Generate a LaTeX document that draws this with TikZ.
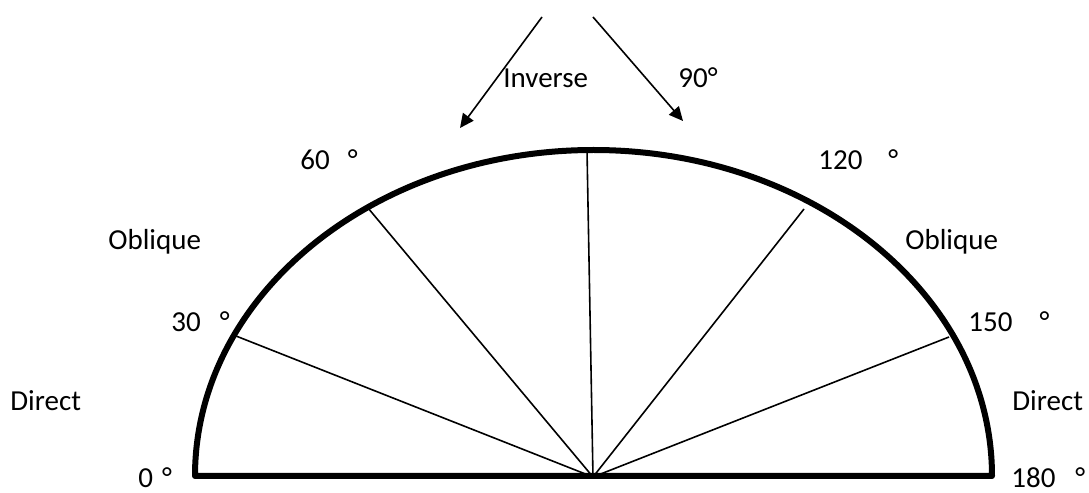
\documentclass[tikz,border=0pt]{standalone}
\usepackage{fontspec}
\setmainfont{Carlito}
\usepackage{tikz}
\usetikzlibrary{
  arrows.meta,
  positioning
}
\tikzset{
    rim/.style={line width=3pt, line join=round},
    spoke/.style={line width=0.8pt},
    ray/.style={line width=0.8pt, -{Triangle[length=7pt, width=6.5pt]}},
    zonetext/.style={anchor=base west, inner sep=0pt, font=\fontsize{14.5}{17}\selectfont}
}

\begin{document}
\begin{tikzpicture}[x=0.5pt, y=0.5pt]
            \useasboundingbox (0,0) rectangle (1089,493);
            % half disc
            \coordinate (O) at (593,16);
            \draw[rim] (195,17) arc[start angle=180, end angle=0, x radius=398.5, y radius=326] -- cycle;
            % spokes
            \coordinate (e30) at (236,157);
            \coordinate (e60) at (368,285);
            \coordinate (e90) at (587,343);
            \coordinate (e120) at (804,284);
            \coordinate (e150) at (949,156);
            \draw[spoke] (O) -- (e30);
            \draw[spoke] (O) -- (e60);
            \draw[spoke] (O) -- (e90);
            \draw[spoke] (O) -- (e120);
            \draw[spoke] (O) -- (e150);
            % arrows
            \coordinate (invStart) at (542,476);
            \coordinate (invEnd) at (460,365);
            \coordinate (rightStart) at (593,476);
            \coordinate (rightEnd) at (683,372);
            \draw[ray] (invStart) -- (invEnd);
            \draw[ray] (rightStart) -- (rightEnd);
            % texts
            \node[zonetext] (inverse) at (503,405) {Inverse};
            \node[zonetext] (deg90) at (678,405) {90°};
            \node[zonetext] (deg60) at (300,323) {60\hspace{9pt}°};
            \node[zonetext] (deg120) at (818,323) {120\hspace{13pt}°};
            \node[zonetext] (obliqueL) at (108,243) {Oblique};
            \node[zonetext] (obliqueR) at (905,243) {Oblique};
            \node[zonetext] (deg30) at (171,161) {30\hspace{9.5pt}°};
            \node[zonetext] (deg150) at (968,161) {150\hspace{13.5pt}°};
            \node[zonetext] (directL) at (10,82) {Direct};
            \node[zonetext] (directR) at (1012,82) {Direct};
            \node[zonetext] (deg0) at (138,5) {0\hspace{4.5pt}°};
            \node[zonetext] (deg180) at (1011,5) {180\hspace{10pt}°};
        \end{tikzpicture}
\end{document}
